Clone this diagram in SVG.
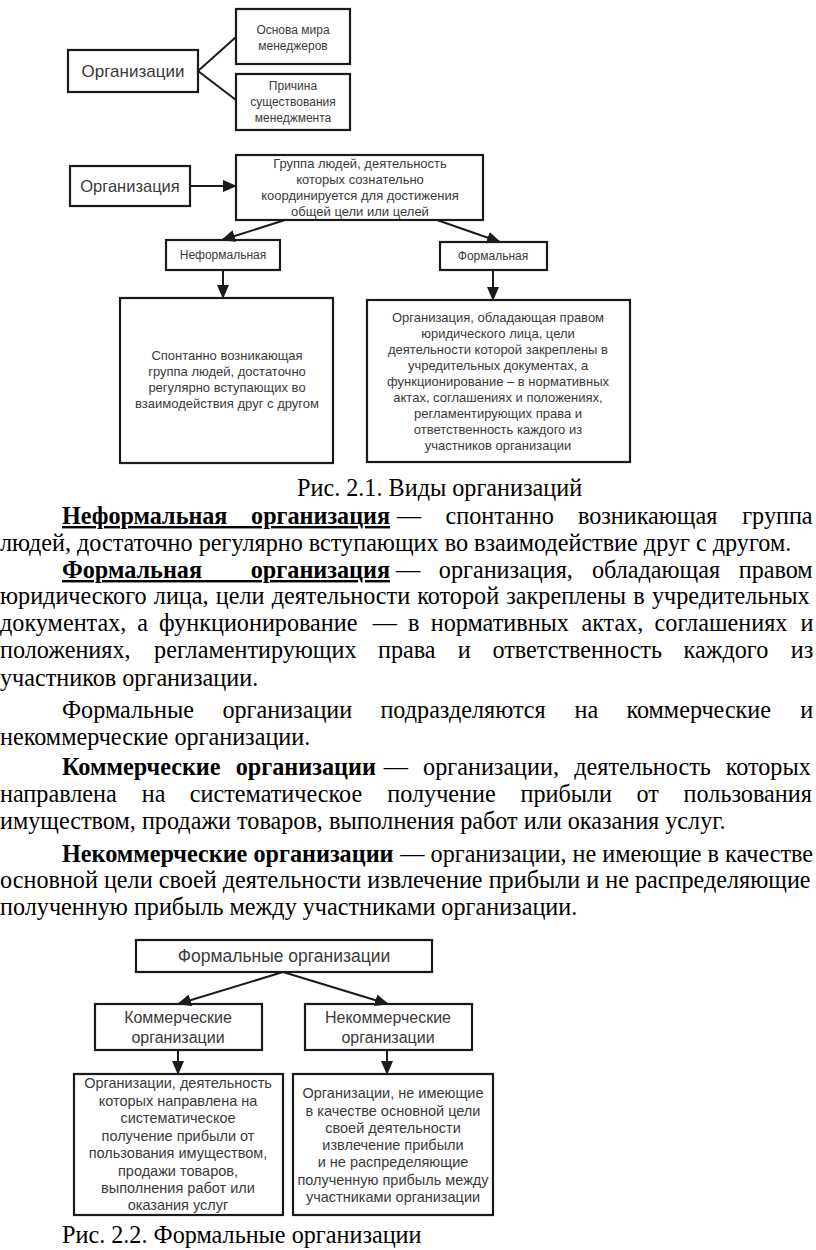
<svg xmlns="http://www.w3.org/2000/svg" width="816" height="1250" viewBox="0 0 816 1250">
<style>
.body{font-family:"Liberation Serif","Times New Roman",serif;font-size:24.2px;fill:#000}
.b{font-weight:bold}
.u{text-decoration:underline}
.box{fill:#fff;stroke:#1a1a1a;stroke-width:2.2}
.lbl{font-family:"Liberation Sans",Arial,sans-serif;fill:#3a3a3a;text-anchor:middle}
.conn{stroke:#1a1a1a;stroke-width:2;fill:none}
.arr{marker-end:url(#ah)}
</style>
<defs>
<marker id="ah" markerUnits="userSpaceOnUse" markerWidth="14" markerHeight="12" viewBox="0 0 14 12" refX="13" refY="6" orient="auto">
<path d="M0,0 L14,6 L0,12 Z" fill="#1a1a1a"/>
</marker>
</defs>
<rect width="816" height="1250" fill="#fff"/>

<!-- Diagram 1 -->
<g id="n-organizacii"><rect class="box" x="68" y="50" width="130" height="42"/><text class="lbl" x="133" y="77" font-size="17">Организации</text></g>
<g id="n-osnova"><rect class="box" x="236" y="9" width="114" height="55"/><text class="lbl" font-size="12"><tspan x="293" y="34">Основа мира</tspan><tspan x="293" y="50">менеджеров</tspan></text></g>
<g id="n-prichina"><rect class="box" x="236" y="74" width="114" height="56"/><text class="lbl" font-size="12"><tspan x="293" y="90">Причина</tspan><tspan x="293" y="106">существования</tspan><tspan x="293" y="122">менеджмента</tspan></text></g>

<!-- Diagram 2 -->
<g id="n-organizacija"><rect class="box" x="70" y="166" width="120" height="40"/><text class="lbl" x="130" y="192" font-size="16.5">Организация</text></g>
<g id="n-gruppa"><rect class="box" x="236" y="155" width="247" height="65"/><text class="lbl" font-size="13"><tspan x="360" y="168">Группа людей, деятельность</tspan><tspan x="360" y="184">которых сознательно</tspan><tspan x="360" y="200">координируется для достижения</tspan><tspan x="360" y="216">общей цели или целей</tspan></text></g>
<g id="n-neformalnaja"><rect class="box" x="166" y="240" width="114" height="30"/><text class="lbl" x="223" y="259" font-size="12">Неформальная</text></g>
<g id="n-formalnaja"><rect class="box" x="440" y="242" width="107" height="28"/><text class="lbl" x="493" y="260" font-size="12">Формальная</text></g>
<g id="n-spontanno"><rect class="box" x="120" y="298" width="213" height="165"/><text class="lbl" font-size="13"><tspan x="227" y="360">Спонтанно возникающая</tspan><tspan x="227" y="376">группа людей, достаточно</tspan><tspan x="227" y="392">регулярно вступающих во</tspan><tspan x="227" y="408">взаимодействия друг с другом</tspan></text></g>
<g id="n-formal-def"><rect class="box" x="367" y="300" width="263" height="162"/><text class="lbl" font-size="13"><tspan x="498" y="322">Организация, обладающая правом</tspan><tspan x="498" y="338">юридического лица, цели</tspan><tspan x="498" y="354">деятельности которой закреплены в</tspan><tspan x="498" y="370">учредительных документах, а</tspan><tspan x="498" y="386">функционирование – в нормативных</tspan><tspan x="498" y="402">актах, соглашениях и положениях,</tspan><tspan x="498" y="418">регламентирующих права и</tspan><tspan x="498" y="434">ответственность каждого из</tspan><tspan x="498" y="450">участников организации</tspan></text></g>

<!-- Diagram 3 -->
<g id="n-formalnye"><rect class="box" x="136" y="940" width="296" height="32"/><text class="lbl" x="284" y="962" font-size="17.5">Формальные организации</text></g>
<g id="n-kommercheskie"><rect class="box" x="95" y="1004" width="167" height="46"/><text class="lbl" font-size="16"><tspan x="178" y="1023">Коммерческие</tspan><tspan x="178" y="1043">организации</tspan></text></g>
<g id="n-nekommercheskie"><rect class="box" x="305" y="1004" width="167" height="46"/><text class="lbl" font-size="16"><tspan x="388" y="1023">Некоммерческие</tspan><tspan x="388" y="1043">организации</tspan></text></g>
<g id="n-kom-def"><rect class="box" x="74" y="1074" width="209" height="141"/><text class="lbl" font-size="14.5"><tspan x="178" y="1088">Организации, деятельность</tspan><tspan x="178" y="1106">которых направлена на</tspan><tspan x="178" y="1123">систематическое</tspan><tspan x="178" y="1141">получение прибыли от</tspan><tspan x="178" y="1158">пользования имуществом,</tspan><tspan x="178" y="1176">продажи товаров,</tspan><tspan x="178" y="1193">выполнения работ или</tspan><tspan x="178" y="1210">оказания услуг</tspan></text></g>
<g id="n-nekom-def"><rect class="box" x="293" y="1074" width="200" height="141"/><text class="lbl" font-size="14.5"><tspan x="393" y="1098">Организации, не имеющие</tspan><tspan x="393" y="1116">в качестве основной цели</tspan><tspan x="393" y="1133">своей деятельности</tspan><tspan x="393" y="1150">извлечение прибыли</tspan><tspan x="393" y="1167">и не распределяющие</tspan><tspan x="393" y="1185">полученную прибыль между</tspan><tspan x="393" y="1202">участниками организации</tspan></text></g>

<g id="connectors">
<line class="conn" x1="198" y1="71" x2="236" y2="37"/>
<line class="conn" x1="198" y1="71" x2="236" y2="100"/>
<line class="conn arr" x1="190" y1="186" x2="236" y2="186"/>
<line class="conn arr" x1="285" y1="220" x2="222" y2="240"/>
<line class="conn arr" x1="437" y1="220" x2="500" y2="242"/>
<line class="conn arr" x1="223" y1="270" x2="223" y2="298"/>
<line class="conn arr" x1="493" y1="270" x2="493" y2="300"/>
<line class="conn arr" x1="283" y1="972" x2="178" y2="1004"/>
<line class="conn arr" x1="283" y1="972" x2="388" y2="1004"/>
<line class="conn arr" x1="178" y1="1050" x2="178" y2="1074"/>
<line class="conn arr" x1="387" y1="1050" x2="387" y2="1074"/>
</g>

<!-- Body text -->
<g id="body-text" class="body">
<text x="297" y="496">Рис. 2.1. Виды организаций</text>
<text class="b u" x="62" y="524" word-spacing="17.75" textLength="328" lengthAdjust="spacingAndGlyphs">Неформальная организация</text>
<text y="524"><tspan x="397">—</tspan><tspan x="445.5">спонтанно</tspan><tspan x="577.9">возникающая</tspan><tspan x="742.2">группа</tspan></text>
<text x="0" y="551">людей, достаточно регулярно вступающих во взаимодействие друг с другом.</text>
<text class="b u" x="62" y="578" word-spacing="42.75" textLength="328" lengthAdjust="spacingAndGlyphs">Формальная организация</text>
<text y="578"><tspan x="396">—</tspan><tspan x="438.8">организация,</tspan><tspan x="591.9">обладающая</tspan><tspan x="738.7">правом</tspan></text>
<text x="0" y="604" word-spacing="1.15">юридического лица, цели деятельности которой закреплены в учредительных</text>
<text y="631"><tspan x="0">документах,</tspan><tspan x="137.2">а</tspan><tspan x="159.1">функционирование</tspan><tspan x="372.7">—</tspan><tspan x="408.1">в</tspan><tspan x="430.7">нормативных</tspan><tspan x="581.4">актах,</tspan><tspan x="654.6">соглашениях</tspan><tspan x="800.4">и</tspan></text>
<text y="658"><tspan x="0">положениях,</tspan><tspan x="154.1">регламентирующих</tspan><tspan x="378">права</tspan><tspan x="457.8">и</tspan><tspan x="492.5">ответственность</tspan><tspan x="683.6">каждого</tspan><tspan x="790.7">из</tspan></text>
<text x="0" y="686">участников организации.</text>
<text y="718"><tspan x="62">Формальные</tspan><tspan x="222.4">организации</tspan><tspan x="380.4">подразделяются</tspan><tspan x="574.6">на</tspan><tspan x="626.4">коммерческие</tspan><tspan x="800.2">и</tspan></text>
<text x="0" y="745">некоммерческие организации.</text>
<text class="b" x="62" y="775" word-spacing="9.15">Коммерческие организации</text>
<text y="775"><tspan x="383.7">—</tspan><tspan x="423.1">организации,</tspan><tspan x="574.3">деятельность</tspan><tspan x="725.7">которых</tspan></text>
<text y="802"><tspan x="0">направлена</tspan><tspan x="141.8">на</tspan><tspan x="189.8">систематическое</tspan><tspan x="387.3">получение</tspan><tspan x="520.5">прибыли</tspan><tspan x="636.6">от</tspan><tspan x="683.6">пользования</tspan></text>
<text x="0" y="829">имуществом, продажи товаров, выполнения работ или оказания услуг.</text>
<text class="b" x="62" y="862">Некоммерческие организации</text>
<text x="400.3" y="862">— организации, не имеющие в качестве</text>
<text x="0" y="888">основной цели своей деятельности извлечение прибыли и не распределяющие</text>
<text x="0" y="915">полученную прибыль между участниками организации.</text>
<text x="62" y="1243">Рис. 2.2. Формальные организации</text>
</g>
</svg>
